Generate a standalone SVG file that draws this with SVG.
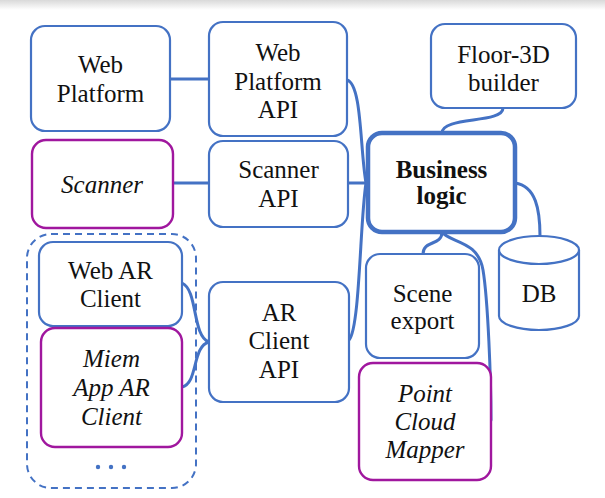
<svg xmlns="http://www.w3.org/2000/svg" width="605" height="498" viewBox="0 0 605 498" font-family="'Liberation Serif', 'DejaVu Serif', serif">
<defs>
<linearGradient id="topshade" x1="0" y1="0" x2="0" y2="1">
<stop offset="0" stop-color="#d9d9d9"/>
<stop offset="1" stop-color="#ffffff"/>
</linearGradient>
</defs>
<style>
.box{fill:#fff;stroke:#4472C4;stroke-width:2.2}
.pbox{fill:#fff;stroke:#A0179E;stroke-width:2.4}
.main{fill:#fff;stroke:#4472C4;stroke-width:4.5}
.grp{fill:none;stroke:#4472C4;stroke-width:2;stroke-dasharray:7 5}
.con{fill:none;stroke:#4472C4;stroke-width:3;stroke-linecap:round}
.t{font-family:'Liberation Serif','DejaVu Serif',serif;font-size:25px;fill:#111;text-anchor:middle}
.it{font-style:italic}
.b{font-weight:bold}
</style>
<rect x="0" y="0" width="605" height="498" fill="#fff"/>
<rect x="0" y="0" width="605" height="10" fill="url(#topshade)"/>

<g id="connectors">
<path class="con" d="M170,79 L209,79"/>
<path class="con" d="M173,183 L209,183"/>
<path class="con" d="M348,183 L368,183"/>
<path class="con" d="M347,80 C362,84 360,150 366,183"/>
<path class="con" d="M349,340 C360,328 360,220 366,183"/>
<path class="con" d="M182,283 C198,290 192,336 209,342"/>
<path class="con" d="M182,387 C198,384 192,346 209,342"/>
<path class="con" d="M503,108 C503,124 442,116 442,133"/>
<path class="con" d="M515,183 C536,186 540,210 540,236"/>
<path class="con" d="M442,232 C442,246 423,240 423,254"/>
<path class="con" d="M442,232 C450,243 478,240 483,270 C488,300 491,380 491,420"/>
</g>

<g id="group-clients">
<rect class="grp" x="27" y="234" width="169" height="254" rx="24"/>
<circle cx="98" cy="467" r="2.2" fill="#4472C4"/>
<circle cx="111" cy="467" r="2.2" fill="#4472C4"/>
<circle cx="124" cy="467" r="2.2" fill="#4472C4"/>
</g>

<g id="web-platform">
<rect class="box" x="31" y="26" width="139" height="105" rx="14"/>
<text class="t" x="100.5" y="73">Web</text>
<text class="t" x="100.5" y="102">Platform</text>
</g>

<g id="web-platform-api">
<rect class="box" x="209" y="22" width="138" height="114" rx="14"/>
<text class="t" x="278" y="61">Web</text>
<text class="t" x="278" y="90">Platform</text>
<text class="t" x="278" y="118">API</text>
</g>

<g id="scanner">
<rect class="pbox" x="32" y="140" width="141" height="88" rx="14"/>
<text class="t it" x="102" y="193">Scanner</text>
</g>

<g id="scanner-api">
<rect class="box" x="209" y="141" width="139" height="86" rx="14"/>
<text class="t" x="278.5" y="178">Scanner</text>
<text class="t" x="278.5" y="207">API</text>
</g>

<g id="floor-3d-builder">
<rect class="box" x="431" y="24" width="145" height="84" rx="14"/>
<text class="t" x="503.5" y="63">Floor-3D</text>
<text class="t" x="503.5" y="91">builder</text>
</g>

<g id="business-logic">
<rect class="main" x="368" y="133" width="147" height="99" rx="14"/>
<text class="t b" x="441.5" y="178">Business</text>
<text class="t b" x="441.5" y="204">logic</text>
</g>

<g id="db">
<path class="box" d="M499,250 L499,316 A40,14 0 0 0 579,316 L579,250"/>
<ellipse class="box" cx="539" cy="250" rx="40" ry="14"/>
<text class="t" x="539" y="302">DB</text>
</g>

<g id="web-ar-client">
<rect class="box" x="39" y="242" width="143" height="84" rx="14"/>
<text class="t" x="110.5" y="279">Web AR</text>
<text class="t" x="110.5" y="307">Client</text>
</g>

<g id="miem-app-ar-client">
<rect class="pbox" x="41" y="328" width="141" height="119" rx="14"/>
<text class="t it" x="111.5" y="367">Miem</text>
<text class="t it" x="111.5" y="396">App AR</text>
<text class="t it" x="111.5" y="425">Client</text>
</g>

<g id="ar-client-api">
<rect class="box" x="209" y="282" width="140" height="120" rx="14"/>
<text class="t" x="279" y="321">AR</text>
<text class="t" x="279" y="349">Client</text>
<text class="t" x="279" y="378">API</text>
</g>

<g id="scene-export">
<rect class="box" x="366" y="254" width="113" height="104" rx="14"/>
<text class="t" x="422.5" y="302">Scene</text>
<text class="t" x="422.5" y="329">export</text>
</g>

<g id="point-cloud-mapper">
<rect class="pbox" x="359" y="363" width="132" height="117" rx="14"/>
<text class="t it" x="425" y="402">Point</text>
<text class="t it" x="425" y="430">Cloud</text>
<text class="t it" x="425" y="458">Mapper</text>
</g>
</svg>
